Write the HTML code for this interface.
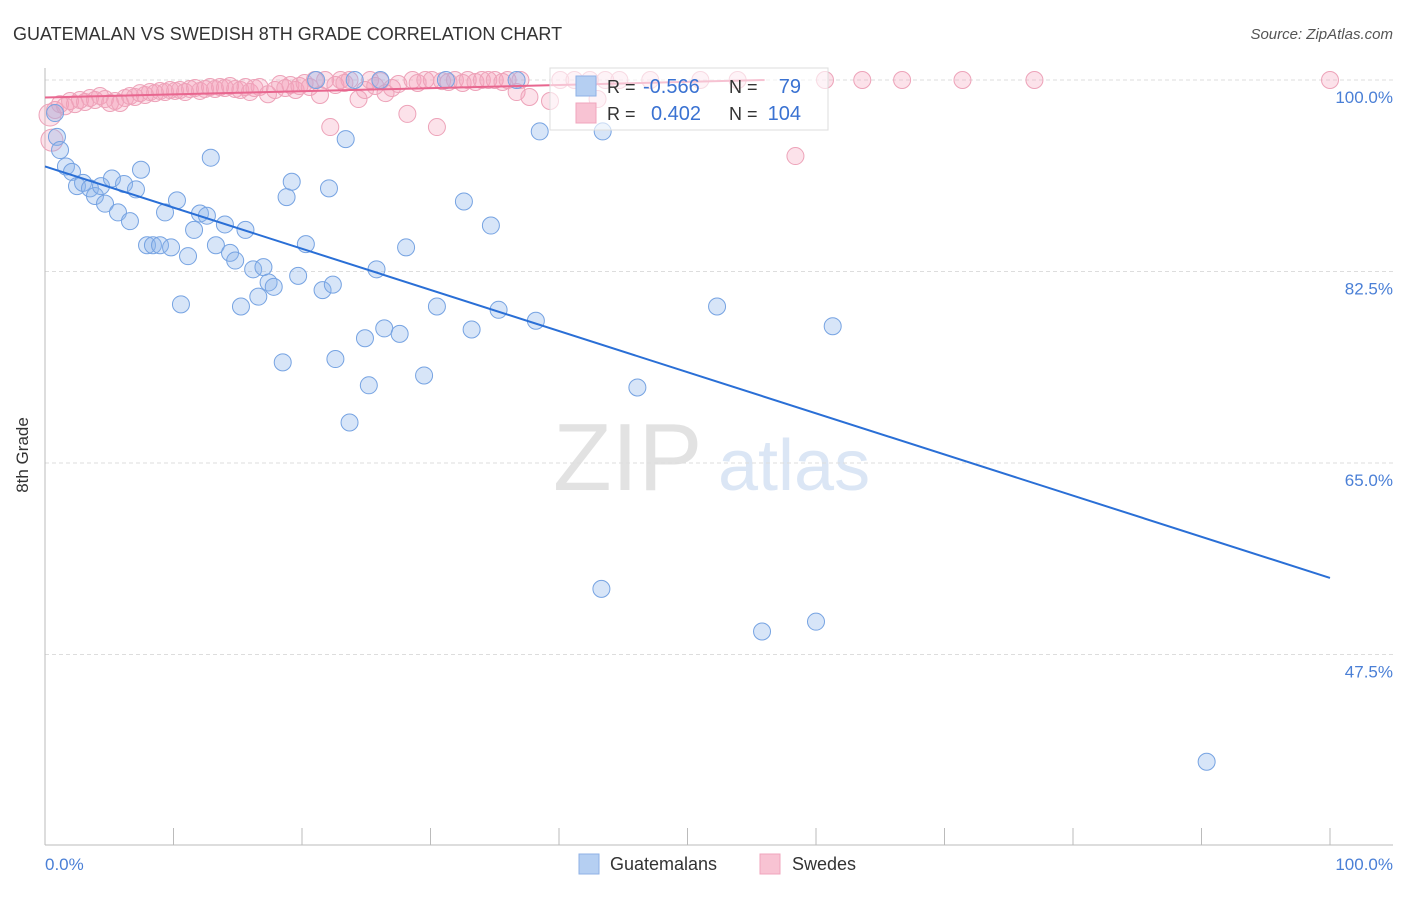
<!DOCTYPE html>
<html><head><meta charset="utf-8"><style>
body{margin:0;background:#fff;font-family:"Liberation Sans",sans-serif}
svg text{font-family:"Liberation Sans",sans-serif}
</style></head><body>
<svg width="1406" height="892" xmlns="http://www.w3.org/2000/svg">
<text x="13" y="40" font-size="18" fill="#333">GUATEMALAN VS SWEDISH 8TH GRADE CORRELATION CHART</text>
<text x="1393" y="39" font-size="15" fill="#555" font-style="italic" text-anchor="end">Source: ZipAtlas.com</text>
<g>
<text x="553" y="490" font-size="96" font-family="Liberation Serif,serif" fill="#e2e2e2">ZIP</text>
<text x="718" y="490" font-size="72" fill="#dbe6f5">atlas</text>
</g>
<g id="grid"></g>
<line x1="45" y1="68" x2="45" y2="845" stroke="#bbb"/>
<line x1="45" y1="845" x2="1393" y2="845" stroke="#bbb"/>
<g id="ticks"></g>
<text x="28" y="455" font-size="17" fill="#333" text-anchor="middle" transform="rotate(-90 28 455)">8th Grade</text>
<text x="45" y="870" font-size="17" fill="#4a7fd6">0.0%</text>
<text x="1393" y="870" font-size="17" fill="#4a7fd6" text-anchor="end">100.0%</text>
<g id="pink"></g>
<g id="blue"></g>
<g id="lines"></g>
<g>
<rect x="550" y="68" width="278" height="62" fill="rgba(255,255,255,0.6)" stroke="#ddd"/>
<rect x="576" y="76" width="20" height="20" fill="#b5cff2" stroke="#8fb2e6"/>
<rect x="576" y="103" width="20" height="20" fill="#f8c3d3" stroke="#f0a5bd"/>
<text x="607" y="93" font-size="18" fill="#333">R =</text><text x="643" y="93" font-size="20" fill="#3a72d2">-0.566</text>
<text x="729" y="93" font-size="18" fill="#333">N =</text><text x="801" y="93" font-size="20" fill="#3a72d2" text-anchor="end">79</text>
<text x="607" y="120" font-size="18" fill="#333">R =</text><text x="651" y="120" font-size="20" fill="#3a72d2">0.402</text>
<text x="729" y="120" font-size="18" fill="#333">N =</text><text x="801" y="120" font-size="20" fill="#3a72d2" text-anchor="end">104</text>
</g>
<g>
<rect x="579" y="854" width="20" height="20" fill="#b5cff2" stroke="#8fb2e6"/>
<text x="610" y="870" font-size="18" fill="#333">Guatemalans</text>
<rect x="760" y="854" width="20" height="20" fill="#f8c3d3" stroke="#f0a5bd"/>
<text x="792" y="870" font-size="18" fill="#333">Swedes</text>
</g>
</svg>
<script>
const yTicks=[100,82.5,65,47.5];
const yTickLabels=["100.0%","82.5%","65.0%","47.5%"];
const blueX=[0.78,0.93,1.17,1.63,2.1,2.49,2.96,3.5,3.89,4.36,4.67,5.21,5.68,6.15,6.61,7.08,7.47,7.94,8.4,8.95,9.34,9.81,10.27,10.58,11.13,11.6,12.06,12.6,12.9,13.3,14.0,14.4,14.8,15.25,15.6,16.2,16.6,17.0,17.4,17.8,18.5,18.8,19.2,19.7,20.3,21.1,21.6,22.1,22.4,22.6,23.4,23.7,24.1,24.9,25.2,25.8,26.1,26.4,27.6,28.1,29.5,30.5,31.2,32.6,33.2,34.7,35.3,36.7,38.2,38.5,43.3,43.4,46.1,52.3,55.8,60.0,61.3,90.4];
const blueY=[96.98,94.8,93.6,92.1,91.6,90.3,90.6,90.1,89.4,90.3,88.7,91.0,87.9,90.5,87.1,90.0,91.8,84.9,84.9,84.9,87.9,84.7,89.0,79.5,83.9,86.3,87.8,87.6,92.9,84.9,86.8,84.2,83.5,79.3,86.3,82.7,80.2,82.9,81.5,81.1,74.2,89.3,90.7,82.1,85.0,100,80.8,90.1,81.3,74.5,94.6,68.7,100,76.4,72.1,82.7,100,77.3,76.8,84.7,73.0,79.3,100,88.9,77.2,86.7,79.0,100,78.0,95.3,53.5,95.3,71.9,79.3,49.6,50.5,77.5,37.7];
const pinkX=[0.39,0.54,0.78,1.17,1.56,1.95,2.33,2.72,3.11,3.5,3.89,4.28,4.67,5.06,5.45,5.84,6.23,6.61,7.0,7.39,7.78,8.17,8.56,8.95,9.34,9.73,10.12,10.5,10.9,11.28,11.67,12.06,12.45,12.84,13.23,13.62,14.0,14.4,14.8,15.2,15.6,15.95,16.3,16.7,17.35,17.9,18.3,18.7,19.1,19.5,19.8,20.2,20.6,21.0,21.4,21.8,22.2,22.6,23.0,23.3,23.7,24.4,24.9,25.3,25.7,26.1,26.5,27.0,27.5,28.2,28.6,29.0,29.6,30.1,30.5,30.9,31.4,31.9,32.5,32.9,33.5,34.0,34.5,35.0,35.6,36.0,36.7,37.0,37.7,39.3,40.1,41.2,42.4,43.0,43.6,44.7,47.1,51.0,53.9,58.4,60.7,63.6,66.7,71.4,77.0,100];
const pinkY=[96.8,94.5,97.26,97.8,97.6,98.08,97.8,98.17,97.99,98.36,98.17,98.54,98.26,97.9,98.08,97.9,98.36,98.54,98.45,98.8,98.63,98.9,98.8,99.0,98.9,99.09,99.0,99.09,98.9,99.18,99.27,99.0,99.18,99.36,99.18,99.36,99.27,99.45,99.18,99.09,99.36,98.9,99.27,99.36,98.7,99.09,99.63,99.27,99.54,99.09,99.45,99.73,99.36,100,98.63,100,95.7,99.54,100,99.73,100,98.26,99.09,100,99.45,99.9,98.8,99.27,99.63,96.9,100,99.73,100,100,95.7,99.9,99.82,100,99.73,100,99.82,100,100,100,99.82,100,98.9,100,98.45,98.08,100,100,100,98.26,100,100,100,100,100,93.05,100,100,100,100,100,100];
const blueLine=[[0,92.1],[100,54.5]];
const pinkLine=[[0,98.4],[56,100]];
const X=v=>45+v*12.85, Y=v=>80+(100-v)*10.943;
const NS="http://www.w3.org/2000/svg";
function mk(t,a,p){const e=document.createElementNS(NS,t);for(const k in a)e.setAttribute(k,a[k]);p.appendChild(e);return e;}
const grid=document.getElementById('grid');
yTicks.forEach((t,i)=>{
 const l=mk('line',{x1:45,x2:1393,y1:Y(t),y2:Y(t),stroke:'#ddd','stroke-dasharray':'4,3'},grid);
 
 
 const tx=mk('text',{x:1393,y:Y(t)+23,'font-size':17,fill:'#4a7fd6','text-anchor':'end'},grid);
 tx.textContent=yTickLabels[i];
 
 
});
const ticks=document.getElementById('ticks');
for(let i=0;i<=10;i++){
 const l=mk('line',{x1:X(i*10),x2:X(i*10),y1:828,y2:845,stroke:'#bbb'},ticks);
 
 
}
const pg=document.getElementById('pink');
pinkX.forEach((x,i)=>{
 const c=mk('circle',{cx:X(x),cy:Y(pinkY[i]),r:i<2?11:8.5,fill:'rgba(244,160,186,0.3)',stroke:'#eda3b9','stroke-width':1},pg);
 
 
});
const bg=document.getElementById('blue');
blueX.forEach((x,i)=>{
 const c=mk('circle',{cx:X(x),cy:Y(blueY[i]),r:8.5,fill:'rgba(140,180,235,0.35)',stroke:'#76a3e2','stroke-width':1},bg);
 
 
});
const lg=document.getElementById('lines');
const bl=mk('line',{x1:X(blueLine[0][0]),y1:Y(blueLine[0][1]),x2:X(blueLine[1][0]),y2:Y(blueLine[1][1]),stroke:'#2a6fd6','stroke-width':2},lg);


const pl=mk('line',{x1:X(pinkLine[0][0]),y1:Y(pinkLine[0][1]),x2:X(pinkLine[1][0]),y2:Y(pinkLine[1][1]),stroke:'#e8668f','stroke-width':2},lg);


</script>
</body></html>
